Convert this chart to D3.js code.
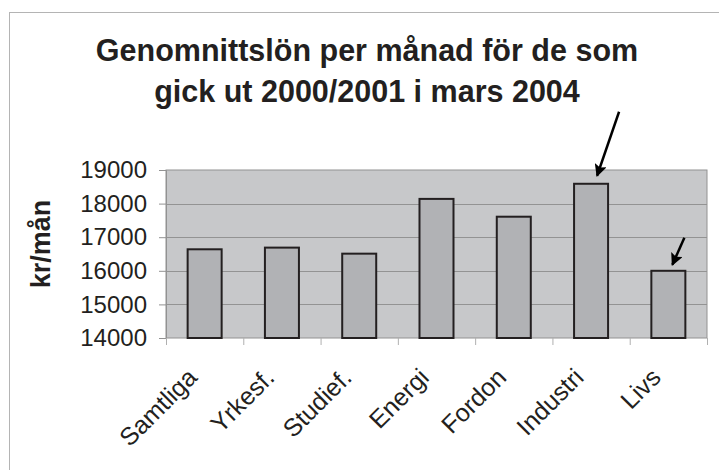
<!DOCTYPE html>
<html>
<head>
<meta charset="utf-8">
<script src="https://cdn.jsdelivr.net/npm/d3@7"></script>
<style>
  body { margin: 0; background: #fff; }
  svg { display: block; font-family: "Liberation Sans", Arial, sans-serif; }
</style>
</head>
<body>
<div id="chart"></div>
<script>
"use strict";

const titleLines = ["Genomnittslön per månad för de som", "gick ut 2000/2001 i mars 2004"];
const yLabel = "kr/mån";
const categories = ["Samtliga", "Yrkesf.", "Studief.", "Energi", "Fordon", "Industri", "Livs"];
const salaries = [16640, 16690, 16510, 18140, 17610, 18590, 16000];
const yTicks = [14000, 15000, 16000, 17000, 18000, 19000];
const arrowCategories = ["Industri", "Livs"];

const width = 719;
const height = 470;
const margin = { top: 170, right: 12, bottom: 132, left: 166 };
const innerW = width - margin.left - margin.right;
const innerH = height - margin.top - margin.bottom;
const ink = "#231f20";

const svg = d3
  .select("#chart")
  .append("svg")
  .attr("width", width)
  .attr("height", height);

// outer chart border (runs off the right and bottom edge)
svg
  .append("rect")
  .attr("x", 9.5)
  .attr("y", 12.5)
  .attr("width", width)
  .attr("height", height)
  .attr("fill", "#fff")
  .attr("stroke", "#b4b4b4");

// title
svg
  .append("text")
  .attr("x", 367)
  .attr("y", 61)
  .attr("text-anchor", "middle")
  .attr("font-size", 30.5)
  .attr("font-weight", "bold")
  .attr("fill", ink)
  .selectAll("tspan")
  .data(titleLines)
  .enter()
  .append("tspan")
  .attr("x", 367)
  .attr("dy", (d, i) => (i === 0 ? 0 : 41))
  .text((d) => d);

const g = svg
  .append("g")
  .attr("transform", "translate(" + margin.left + "," + margin.top + ")");

///////////////////////////////////
// scales
///////////////////////////////////

const x = d3.scaleBand().domain(categories).range([0, innerW]).paddingInner(0.56).paddingOuter(0.28);
const xStep = d3.scaleBand().domain(categories).range([0, innerW]);
const y = d3.scaleLinear().domain([14000, 19000]).range([innerH, 0]);

// plot area
g.append("rect")
  .attr("width", innerW)
  .attr("height", innerH)
  .attr("fill", "#c7c8ca")
  .attr("stroke", "#929292");

// gridlines
g.selectAll(".grid")
  .data(yTicks.slice(1, -1))
  .enter()
  .append("line")
  .attr("x1", 0)
  .attr("x2", innerW)
  .attr("y1", (d) => Math.round(y(d)) + 0.5)
  .attr("y2", (d) => Math.round(y(d)) + 0.5)
  .attr("stroke", "#939393");

// y axis
const yAxis = g
  .append("g")
  .call(d3.axisLeft(y).tickValues(yTicks).tickFormat(d3.format("d")).tickSize(7).tickPadding(12));
yAxis.select(".domain").attr("stroke", "#929292");
yAxis.selectAll(".tick line").attr("stroke", "#929292");
yAxis
  .selectAll("text")
  .attr("font-size", 24)
  .attr("font-family", "Liberation Sans, Arial, sans-serif")
  .attr("fill", ink);

// x axis: ticks sit between categories
const xAxis = g
  .append("g")
  .attr("transform", "translate(0," + innerH + ")");
xAxis
  .selectAll("line")
  .data(categories.concat(["end"]))
  .enter()
  .append("line")
  .attr("x1", (d, i) => i * xStep.step() + 0.5)
  .attr("x2", (d, i) => i * xStep.step() + 0.5)
  .attr("y1", 0)
  .attr("y2", 7)
  .attr("stroke", "#b0b0b0");

xAxis
  .selectAll("text")
  .data(categories)
  .enter()
  .append("text")
  .attr("transform", (d) => "translate(" + (x(d) + x.bandwidth() / 2 - 6) + ",41) rotate(-45)")
  .attr("text-anchor", "end")
  .attr("font-size", 25)
  .attr("fill", ink)
  .text((d) => d);

// bars
g.selectAll(".bar")
  .data(categories)
  .enter()
  .append("rect")
  .attr("class", "bar")
  .attr("x", (d) => x(d))
  .attr("y", (d, i) => y(salaries[i]))
  .attr("width", x.bandwidth())
  .attr("height", (d, i) => innerH - y(salaries[i]))
  .attr("fill", "#b1b2b5")
  .attr("stroke", ink)
  .attr("stroke-width", 2);

// y axis title
svg
  .append("text")
  .attr("transform", "translate(50,244) rotate(-90)")
  .attr("text-anchor", "middle")
  .attr("font-size", 27)
  .attr("font-weight", "bold")
  .attr("fill", ink)
  .text(yLabel);

///////////////////////////////////
// arrows pointing at the Industri and Livs bars
///////////////////////////////////

svg
  .append("defs")
  .append("marker")
  .attr("id", "head")
  .attr("viewBox", "0 0 10 10")
  .attr("refX", 9)
  .attr("refY", 5)
  .attr("markerWidth", 6.5)
  .attr("markerHeight", 5)
  .attr("orient", "auto")
  .attr("markerUnits", "strokeWidth")
  .append("path")
  .attr("d", "M0,0 L10,5 L0,10 L2,5 z")
  .attr("fill", "#000");

const arrowOffsets = [
  { from: [28, -72], to: [6, -8] },
  { from: [16, -33], to: [4, -6] },
];

g.selectAll(".arrow")
  .data(arrowCategories)
  .enter()
  .append("line")
  .attr("class", "arrow")
  .each(function (d, i) {
    const cx = x(d) + x.bandwidth() / 2;
    const top = y(salaries[categories.indexOf(d)]);
    d3.select(this)
      .attr("x1", cx + arrowOffsets[i].from[0])
      .attr("y1", top + arrowOffsets[i].from[1])
      .attr("x2", cx + arrowOffsets[i].to[0])
      .attr("y2", top + arrowOffsets[i].to[1]);
  })
  .attr("stroke", "#000")
  .attr("stroke-width", 2.5)
  .attr("marker-end", "url(#head)");
</script>
</body>
</html>
